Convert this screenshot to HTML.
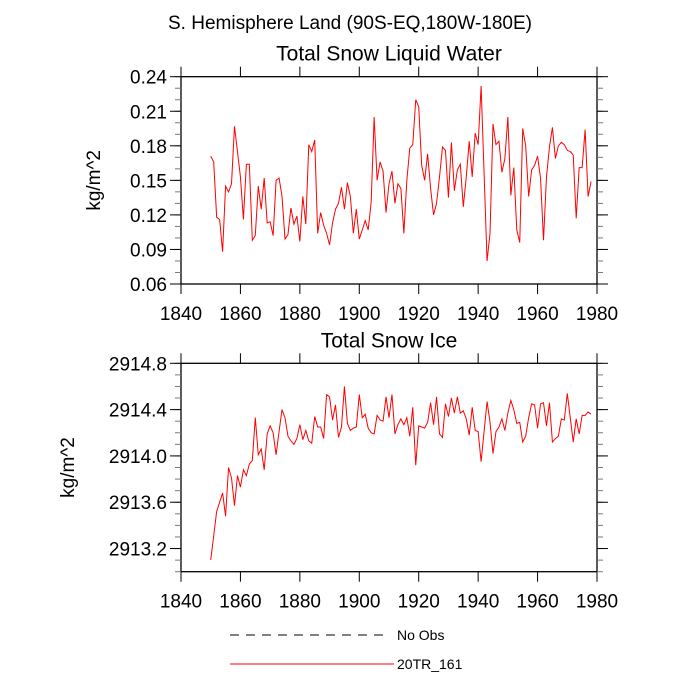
<!DOCTYPE html>
<html><head><meta charset="utf-8"><style>
html,body{margin:0;padding:0;background:#fff;}
svg{display:block;font-family:"Liberation Sans",sans-serif;}
</style></head><body>
<svg id="chart" width="700" height="700" viewBox="0 0 700 700">
<text x="350" y="29" font-size="19" text-anchor="middle">S. Hemisphere Land (90S-EQ,180W-180E)</text>
<g id="p1"></g>
<g id="p2"></g>
<g>
<line x1="230" y1="635" x2="386" y2="635" stroke="#000" stroke-width="1" stroke-dasharray="9,7"/>
<text x="397" y="640" font-size="14">No Obs</text>
<line x1="230" y1="664" x2="394" y2="664" stroke="#ff0000" stroke-width="1"/>
<text x="397" y="669" font-size="14">20TR_161</text>
</g>
</svg>
<script>
const startYear = 1850;
const liquidWater = [0.171,0.166,0.118,0.116,0.088,0.145,0.140,0.147,0.197,0.175,0.153,0.116,0.164,0.164,0.098,0.102,0.145,0.125,0.152,0.113,0.114,0.102,0.150,0.152,0.136,0.099,0.103,0.126,0.112,0.119,0.097,0.136,0.112,0.181,0.175,0.185,0.104,0.122,0.111,0.104,0.094,0.113,0.125,0.130,0.144,0.125,0.148,0.136,0.104,0.125,0.099,0.107,0.115,0.107,0.131,0.205,0.150,0.166,0.158,0.122,0.147,0.158,0.130,0.147,0.143,0.104,0.150,0.178,0.181,0.220,0.214,0.163,0.150,0.173,0.143,0.120,0.130,0.153,0.179,0.176,0.135,0.183,0.141,0.159,0.164,0.127,0.153,0.184,0.153,0.191,0.181,0.232,0.156,0.080,0.104,0.199,0.181,0.184,0.157,0.169,0.205,0.137,0.161,0.107,0.096,0.195,0.180,0.136,0.159,0.163,0.171,0.152,0.098,0.153,0.179,0.196,0.169,0.180,0.183,0.181,0.176,0.175,0.172,0.117,0.161,0.161,0.194,0.136,0.149];
const snowIce = [2913.10,2913.31,2913.52,2913.60,2913.68,2913.48,2913.90,2913.81,2913.57,2913.83,2913.73,2913.88,2913.83,2913.93,2913.96,2914.33,2914.01,2914.06,2913.88,2914.19,2914.26,2914.20,2914.01,2914.21,2914.40,2914.33,2914.17,2914.13,2914.10,2914.15,2914.27,2914.14,2914.22,2914.13,2914.11,2914.34,2914.25,2914.25,2914.15,2914.53,2914.51,2914.31,2914.44,2914.16,2914.25,2914.60,2914.28,2914.22,2914.24,2914.25,2914.53,2914.33,2914.36,2914.24,2914.20,2914.19,2914.35,2914.31,2914.30,2914.51,2914.33,2914.53,2914.19,2914.27,2914.32,2914.27,2914.33,2914.17,2914.42,2913.92,2914.26,2914.25,2914.24,2914.29,2914.46,2914.27,2914.51,2914.19,2914.16,2914.45,2914.34,2914.50,2914.37,2914.51,2914.37,2914.39,2914.32,2914.18,2914.42,2914.22,2914.21,2913.95,2914.21,2914.47,2914.29,2914.02,2914.21,2914.25,2914.32,2914.22,2914.37,2914.48,2914.40,2914.28,2914.29,2914.12,2914.17,2914.33,2914.45,2914.44,2914.24,2914.45,2914.46,2914.26,2914.46,2914.12,2914.15,2914.17,2914.32,2914.31,2914.54,2914.33,2914.12,2914.32,2914.19,2914.35,2914.35,2914.38,2914.36];
const xTicks = [1840,1860,1880,1900,1920,1940,1960,1980];
const yTicks1 = ["0.06","0.09","0.12","0.15","0.18","0.21","0.24"];
const yTicks2 = ["2913.2","2913.6","2914.0","2914.4","2914.8"];

const NS = "http://www.w3.org/2000/svg";
function mk(parent, tag, attrs){const e=document.createElementNS(NS,tag);for(const k in attrs)e.setAttribute(k,attrs[k]);parent.appendChild(e);return e;}

function panel(g, opt){
  const L=181,R=597,T=opt.top,B=opt.bottom;
  const xs=v=>L+(v-1840)/(1980-1840)*(R-L);
  const ys=v=>B-(v-opt.ymin)/(opt.ymax-opt.ymin)*(B-T);
  const t=mk(g,'text',{x:(L+R)/2,y:T-16,'font-size':21,'text-anchor':'middle'});
  t.textContent=opt.title;
  
  
  const box=mk(g,'rect',{x:L,y:T,width:R-L,height:B-T,fill:'none',stroke:'#000','stroke-width':1.3});
  
  
  xTicks.forEach(v=>{
    const x=xs(v);
    mk(g,'line',{x1:x,y1:T,x2:x,y2:T-10,stroke:'#000'});
    mk(g,'line',{x1:x,y1:B,x2:x,y2:B+10,stroke:'#000'});
    const lb=mk(g,'text',{x:x,y:B+36,'font-size':19,'text-anchor':'middle'});
    lb.textContent=v;
    
    
  });
  const step=opt.minor;
  for(let v=opt.ymin;v<=opt.ymax+1e-9;v+=step){
    const y=ys(v);
    mk(g,'line',{x1:L,y1:y,x2:L-6,y2:y,stroke:'#777'});
    mk(g,'line',{x1:R,y1:y,x2:R+6,y2:y,stroke:'#777'});
  }
  opt.ticks.forEach(s=>{
    const v=parseFloat(s),y=ys(v);
    mk(g,'line',{x1:L,y1:y,x2:L-11,y2:y,stroke:'#000'});
    mk(g,'line',{x1:R,y1:y,x2:R+11,y2:y,stroke:'#000'});
    const lb=mk(g,'text',{x:L-14,y:y+7,'font-size':19,'text-anchor':'end'});
    lb.textContent=s;
    
    
  });
  const yt=mk(g,'text',{x:0,y:0,'font-size':19,'text-anchor':'middle',transform:`translate(${opt.ytx},${(T+B)/2}) rotate(-90)`});
  yt.textContent='kg/m^2';
  
  
  const pts=opt.data.map((v,i)=>xs(startYear+i).toFixed(2)+','+ys(v).toFixed(2)).join(' ');
  const pl=mk(g,'polyline',{points:pts,fill:'none',stroke:'#ff0000','stroke-width':1});
  
  
}
panel(document.getElementById('p1'),{key:'liquid-water',title:'Total Snow Liquid Water',top:76.7,bottom:284,ymin:0.06,ymax:0.24,minor:0.01,ticks:yTicks1,data:liquidWater,ytx:100});
panel(document.getElementById('p2'),{key:'snow-ice',title:'Total Snow Ice',top:363.3,bottom:571.7,ymin:2913.0,ymax:2914.8,minor:0.1,ticks:yTicks2,data:snowIce,ytx:74});
</script>
</body></html>
